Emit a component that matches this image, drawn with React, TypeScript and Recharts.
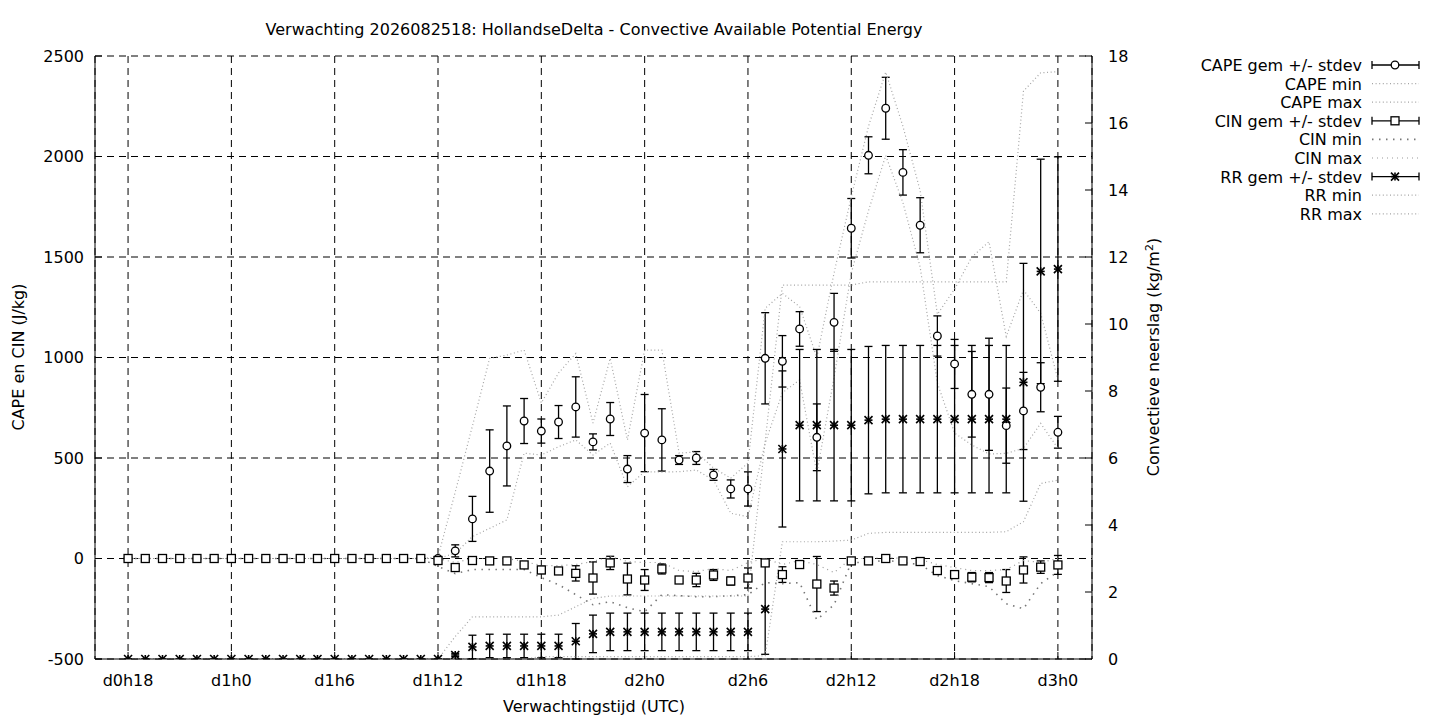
import { CartesianGrid, ComposedChart, ErrorBar, Line, Scatter, XAxis, YAxis } from "recharts";

// forecast hours since d0h0
const HOURS = [
  18, 19, 20, 21, 22, 23, 24, 25, 26, 27, 28, 29, 30, 31, 32, 33, 34, 35, 36, 37, 38, 39, 40, 41, 42, 43, 44,
  45, 46, 47, 48, 49, 50, 51, 52, 53, 54, 55, 56, 57, 58, 59, 60, 61, 62, 63, 64, 65, 66, 67, 68, 69, 70, 71, 72,
];

const TICK_HOURS = [18, 24, 30, 36, 42, 48, 54, 60, 66, 72];
const TICK_LABELS = ["d0h18", "d1h0", "d1h6", "d1h12", "d1h18", "d2h0", "d2h6", "d2h12", "d2h18", "d3h0"];
const LEFT_TICKS = [-500, 0, 500, 1000, 1500, 2000, 2500];
const RIGHT_TICKS = [0, 2, 4, 6, 8, 10, 12, 14, 16, 18];

const CAPE_MEAN = [
  0, 0, 0, 0, 0, 0, 0, 0, 0, 0, 0, 0, 0, 0, 0, 0, 0, 0, 0,
  38, 197, 435, 560, 684, 634, 679, 754, 580, 694, 445, 624, 590, 490, 500, 416, 346, 346,
  996, 981, 1142, 603, 1175, 1643, 2006, 2240, 1921, 1658, 1107, 968, 817, 817, 661, 734, 852, 628,
];
const CAPE_SD = [
  0, 0, 0, 0, 0, 0, 0, 0, 0, 0, 0, 0, 0, 0, 0, 0, 0, 0, 0,
  30, 112, 205, 199, 112, 60, 82, 150, 40, 82, 67, 192, 155, 22, 32, 27, 45, 85,
  227, 128, 86, 166, 144, 148, 92, 154, 113, 137, 100, 122, 213, 279, 187, 192, 122, 79,
];
const CAPE_MIN = [
  0, 0, 0, 0, 0, 0, 0, 0, 0, 0, 0, 0, 0, 0, 0, 0, 0, 0, 0,
  26, 109, 150, 192, 524, 515, 556, 590, 515, 574, 357, 432, 430, 432, 440, 391, 225, 208,
  574, 825, 888, 425, 900, 1420, 1730, 2005, 1770, 1450, 873, 624, 565, 520, 523, 548, 672, 548,
];
const CAPE_MAX = [
  0, 0, 0, 0, 0, 0, 0, 0, 0, 0, 0, 0, 0, 0, 0, 0, 0, 0, 8,
  330, 660, 996, 1012, 1037, 774, 923, 1020, 674, 996, 590, 1037, 1037, 524, 530, 450, 400, 475,
  1245, 1319, 1253, 1000, 1420, 1800, 2150, 2420, 2150, 1830, 1215, 1340, 1500, 1576, 1104, 1336, 1220, 890,
];

const CIN_MEAN = [
  0, 0, 0, 0, 0, 0, 0, 0, 0, 0, 0, 0, 0, 0, 0, 0, 0, 0,
  -10, -45, -10, -12, -12, -32, -57, -62, -74, -97, -22, -102, -107, -52, -107, -107, -82, -112, -97,
  -22, -80, -30, -127, -147, -12, -12, 0, -12, -15, -60, -80, -93, -95, -112, -57, -43, -32,
];
const CIN_SD = [
  0, 0, 0, 0, 0, 0, 0, 0, 0, 0, 0, 0, 0, 0, 0, 0, 0, 0,
  12, 5, 3, 3, 3, 10, 18, 12, 38, 80, 33, 79, 52, 25, 8, 33, 27, 20, 50,
  8, 39, 5, 137, 35, 5, 5, 5, 5, 5, 8, 15, 23, 25, 57, 65, 31, 47,
];
const CIN_MIN = [
  0, 0, 0, 0, 0, 0, 0, 0, 0, 0, 0, 0, 0, 0, 0, 0, 0, 0,
  -40, -75, -55, -55, -55, -55, -95, -130, -180, -230, -215, -245, -265, -180, -185, -190, -190, -185, -180,
  -120, -125, -120, -305, -230, -20, -20, -8, -20, -30, -85, -110, -125, -140, -225, -250, -125, -65,
];
const CIN_MAX = [
  0, 0, 0, 0, 0, 0, 0, 0, 0, 0, 0, 0, 0, 0, 0, 0, 0, 0,
  0, -20, 0, 0, 0, -15, -35, -35, -30, -15, 10, -15, -20, -20, -60, -65, -50, -60, -20,
  0, -30, -10, -30, -70, 0, 0, 5, 0, -5, -30, -45, -60, -60, -55, -10, -20, 0,
];

const RR_MEAN = [
  0, 0, 0, 0, 0, 0, 0, 0, 0, 0, 0, 0, 0, 0, 0, 0, 0, 0, 0,
  0.12, 0.36, 0.39, 0.39, 0.39, 0.39, 0.39, 0.53, 0.75, 0.81, 0.81, 0.81, 0.81, 0.81, 0.81, 0.81, 0.81, 0.81,
  1.49, 6.27, 6.98, 6.98, 6.98, 6.98, 7.13, 7.16, 7.16, 7.16, 7.16, 7.16, 7.16, 7.16, 7.16, 8.26, 11.57, 11.64,
];
const RR_SD = [
  0, 0, 0, 0, 0, 0, 0, 0, 0, 0, 0, 0, 0, 0, 0, 0, 0, 0, 0,
  0.05, 0.35, 0.35, 0.35, 0.35, 0.35, 0.35, 0.53, 0.56, 0.56, 0.56, 0.56, 0.56, 0.56, 0.56, 0.56, 0.56, 0.56,
  1.35, 2.33, 2.26, 2.26, 2.26, 2.26, 2.2, 2.2, 2.2, 2.2, 2.2, 2.2, 2.2, 2.2, 2.2, 3.55, 3.35, 3.35,
];
const RR_MIN = [
  0, 0, 0, 0, 0, 0, 0, 0, 0, 0, 0, 0, 0, 0, 0, 0, 0, 0, 0, 0, 0, 0, 0, 0,
  0.07, 0.07, 0.07, 0.07, 0.07, 0.07, 0.07, 0.07, 0.07, 0.07, 0.07, 0.07, 0.07,
  0.1, 3.5, 3.5, 3.5, 3.52, 3.55, 3.75, 3.78, 3.78, 3.78, 3.78, 3.78, 3.78, 3.78, 3.8, 4.1, 5.24, 5.34,
];
const RR_MAX = [
  0, 0, 0, 0, 0, 0, 0, 0, 0, 0, 0, 0, 0, 0, 0, 0, 0, 0, 0,
  0.67, 1.26, 1.26, 1.26, 1.26, 1.26, 1.31, 1.56, 1.81, 1.88, 1.88, 1.88, 1.88, 1.88, 1.88, 1.88, 1.88, 1.88,
  6.5, 11.16, 11.16, 11.16, 11.16, 11.16, 11.26, 11.26, 11.26, 11.26, 11.26, 11.26, 11.26, 11.26, 11.26, 16.95, 17.5, 17.53,
];

const rows = HOURS.map((h, i) => ({
  h,
  cape: CAPE_MEAN[i],
  capeSd: CAPE_SD[i],
  capeMin: CAPE_MIN[i],
  capeMax: CAPE_MAX[i],
  cin: CIN_MEAN[i],
  cinSd: CIN_SD[i],
  cinMin: CIN_MIN[i],
  cinMax: CIN_MAX[i],
  rr: RR_MEAN[i],
  rrSd: RR_SD[i],
  rrMin: RR_MIN[i],
  rrMax: RR_MAX[i],
}));

const X_DOMAIN: [number, number] = [16.08, 73.98];
const FONT = "'DejaVu Sans', Verdana, sans-serif";
const FS = 16;
const TICK = { fill: "#000", fontSize: FS };
const BLACK = { stroke: "#000" };
const LIGHT = "#a4a4a4";
const DOTS = "1 2.6";

// --- point symbols (gnuplot pt 6, 4 and 3) -----------------------------------
function CircleMark({ cx, cy }: any) {
  return <circle cx={cx} cy={cy} r={3.8} fill="#fff" stroke="#000" strokeWidth={1.3} />;
}

function SquareMark({ cx, cy }: any) {
  return <rect x={cx - 4} y={cy - 4} width={8} height={8} fill="#fff" stroke="#000" strokeWidth={1.3} />;
}

function StarMark({ cx, cy }: any) {
  const r = 4;
  return (
    <g stroke="#000" strokeWidth={1.6}>
      <line x1={cx - r} y1={cy} x2={cx + r} y2={cy} />
      <line x1={cx} y1={cy - r} x2={cx} y2={cy + r} />
      <line x1={cx - r} y1={cy - r} x2={cx + r} y2={cy + r} />
      <line x1={cx - r} y1={cy + r} x2={cx + r} y2={cy - r} />
    </g>
  );
}

// --- key, outside the plot on the right --------------------------------------
const KEY: { label: string; kind: string; mark?: string; stroke?: string; dash?: string; width?: number }[] = [
  { label: "CAPE gem +/- stdev", kind: "err", mark: "circle" },
  { label: "CAPE min", kind: "line", stroke: LIGHT, dash: DOTS },
  { label: "CAPE max", kind: "line", stroke: LIGHT, dash: DOTS },
  { label: "CIN gem +/- stdev", kind: "err", mark: "square" },
  { label: "CIN min", kind: "line", stroke: "#777", dash: "1.5 5.5", width: 1.6 },
  { label: "CIN max", kind: "line", stroke: "#999", dash: "1 4" },
  { label: "RR gem +/- stdev", kind: "err", mark: "star" },
  { label: "RR min", kind: "line", stroke: LIGHT, dash: DOTS },
  { label: "RR max", kind: "line", stroke: LIGHT, dash: DOTS },
];

function Key() {
  return (
    <g>
      {KEY.map((k, i) => {
        const y = 65 + i * 18.6;
        return (
          <g key={k.label}>
            <text x={1362} y={y + 6} textAnchor="end" fontSize={FS} fill="#000">
              {k.label}
            </text>
            {k.kind === "err" ? (
              <g stroke="#000" strokeWidth={1.3}>
                <line x1={1372} y1={y} x2={1419} y2={y} />
                <line x1={1372} y1={y - 4} x2={1372} y2={y + 4} />
                <line x1={1419} y1={y - 4} x2={1419} y2={y + 4} />
                {k.mark === "circle" && <CircleMark cx={1395} cy={y} />}
                {k.mark === "square" && <SquareMark cx={1395} cy={y} />}
                {k.mark === "star" && <StarMark cx={1395} cy={y} />}
              </g>
            ) : (
              <line x1={1372} y1={y} x2={1419} y2={y} stroke={k.stroke} strokeWidth={k.width ?? 1.2} strokeDasharray={k.dash} />
            )}
          </g>
        );
      })}
    </g>
  );
}

export default function App() {
  return (
    <div style={{ position: "absolute", left: 0, top: 0, width: 1440, height: 720, background: "#fff", fontFamily: FONT }}>
      <ComposedChart width={1440} height={720} data={rows} margin={{ top: 56, right: 288, bottom: 0, left: 0 }}>
        <CartesianGrid stroke="#000" strokeDasharray="7 5" />
        <XAxis
          dataKey="h"
          type="number"
          domain={X_DOMAIN}
          allowDataOverflow
          ticks={TICK_HOURS}
          interval={0}
          tickFormatter={(v) => TICK_LABELS[TICK_HOURS.indexOf(v)] ?? ""}
          height={61}
          tick={TICK}
          tickSize={-7}
          tickMargin={23}
          axisLine={BLACK}
          tickLine={BLACK}
        />
        <XAxis
          xAxisId="top"
          orientation="top"
          dataKey="h"
          type="number"
          domain={X_DOMAIN}
          allowDataOverflow
          ticks={TICK_HOURS}
          height={0}
          tick={false}
          tickSize={-7}
          axisLine={BLACK}
          tickLine={BLACK}
        />
        <YAxis
          type="number"
          domain={[-500, 2500]}
          allowDataOverflow
          ticks={LEFT_TICKS}
          interval={0}
          width={95}
          tick={TICK}
          tickSize={-7}
          tickMargin={18}
          axisLine={BLACK}
          tickLine={BLACK}
        />
        <YAxis
          yAxisId="right"
          orientation="right"
          type="number"
          domain={[0, 18]}
          allowDataOverflow
          ticks={RIGHT_TICKS}
          interval={0}
          width={60}
          tick={{ ...TICK, textAnchor: "start" }}
          tickSize={-7}
          tickMargin={23}
          axisLine={BLACK}
          tickLine={BLACK}
        />

        <Scatter dataKey="cape" shape={CircleMark} isAnimationActive={false}>
          <ErrorBar dataKey="capeSd" direction="y" width={4} stroke="#000" strokeWidth={1.3} />
        </Scatter>
        <Line dataKey="capeMin" type="linear" stroke={LIGHT} strokeWidth={1.2} strokeDasharray={DOTS} dot={false} activeDot={false} isAnimationActive={false} />
        <Line dataKey="capeMax" type="linear" stroke={LIGHT} strokeWidth={1.2} strokeDasharray={DOTS} dot={false} activeDot={false} isAnimationActive={false} />

        <Scatter dataKey="cin" shape={SquareMark} isAnimationActive={false}>
          <ErrorBar dataKey="cinSd" direction="y" width={4} stroke="#000" strokeWidth={1.3} />
        </Scatter>
        <Line dataKey="cinMin" type="linear" stroke="#777" strokeWidth={1.6} strokeDasharray="1.5 5.5" dot={false} activeDot={false} isAnimationActive={false} />
        <Line dataKey="cinMax" type="linear" stroke="#999" strokeWidth={1.2} strokeDasharray="1 4" dot={false} activeDot={false} isAnimationActive={false} />

        <Scatter yAxisId="right" dataKey="rr" shape={StarMark} isAnimationActive={false}>
          <ErrorBar dataKey="rrSd" direction="y" width={4} stroke="#000" strokeWidth={1.3} />
        </Scatter>
        <Line yAxisId="right" dataKey="rrMin" type="linear" stroke={LIGHT} strokeWidth={1.2} strokeDasharray={DOTS} dot={false} activeDot={false} isAnimationActive={false} />
        <Line yAxisId="right" dataKey="rrMax" type="linear" stroke={LIGHT} strokeWidth={1.2} strokeDasharray={DOTS} dot={false} activeDot={false} isAnimationActive={false} />
      </ComposedChart>

      <svg width={1440} height={720} style={{ position: "absolute", left: 0, top: 0, pointerEvents: "none" }}>
        <text x={594} y={35} textAnchor="middle" fontSize={FS} fill="#000">
          Verwachting 2026082518: HollandseDelta - Convective Available Potential Energy
        </text>
        <text x={594} y={712} textAnchor="middle" fontSize={FS} fill="#000">
          Verwachtingstijd (UTC)
        </text>
        <text transform="translate(24,357) rotate(-90)" textAnchor="middle" fontSize={FS} fill="#000">
          CAPE en CIN (J/kg)
        </text>
        <text transform="translate(1159,357) rotate(-90)" textAnchor="middle" fontSize={FS} fill="#000">
          Convectieve neerslag (kg/m
          <tspan dy={-6} fontSize={11}>2</tspan>
          <tspan dy={6}>)</tspan>
        </text>
        <Key />
      </svg>
    </div>
  );
}
